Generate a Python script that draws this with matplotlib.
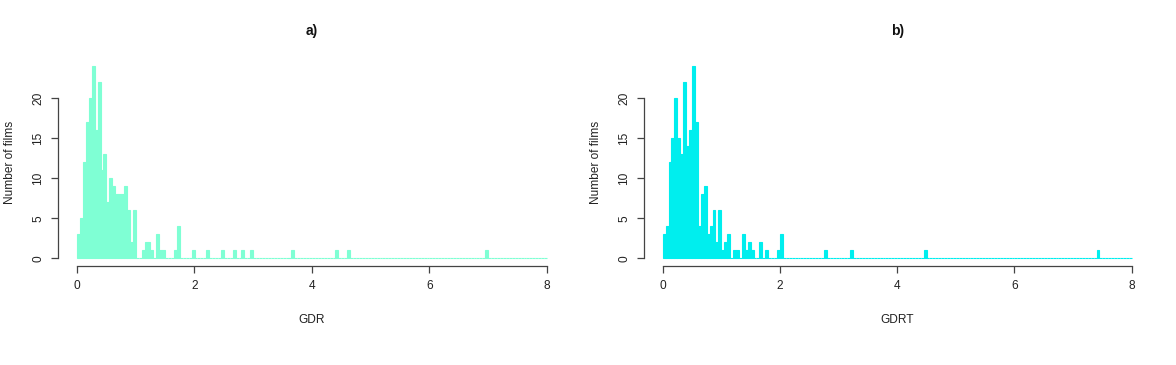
import numpy as np
import matplotlib
matplotlib.use("Agg")
import matplotlib.pyplot as plt

plt.rcParams['font.family'] = ['Liberation Sans', 'DejaVu Sans']

# ---- data (histogram counts, bin width 0.05 on [0, 8]) ----
bin_width = 0.05
x_min, x_max = 0.0, 8.0

# panel a) GDR: counts for bins starting at 0.00, 0.05, ... 2.95
gdr_head = [3, 5, 12, 17, 20, 24, 16, 22, 11, 13,
            7, 10, 9, 8, 8, 8, 9, 6, 2, 6,
            0, 0, 1, 2, 2, 1, 0, 3, 1, 1,
            0, 0, 0, 1, 4, 0, 0, 0, 0, 1,
            0, 0, 0, 0, 1, 0, 0, 0, 0, 1,
            0, 0, 0, 1, 0, 0, 1, 0, 0, 1]
gdr_tail_x = [3.65, 4.40, 4.60, 6.95]
gdr_tail_n = [1, 1, 1, 1]

# panel b) GDRT: counts for bins starting at 0.00 ... 2.00
gdrt_head = [3, 4, 12, 15, 20, 15, 13, 22, 14, 16,
             24, 17, 4, 8, 9, 3, 4, 6, 2, 6,
             1, 2, 3, 0, 1, 1, 0, 3, 1, 2,
             1, 0, 0, 2, 0, 1, 0, 0, 0, 1,
             3]
gdrt_tail_x = [2.75, 3.20, 4.45, 7.40]
gdrt_tail_n = [1, 1, 1, 1]

titles = ["a)", "b)"]
xlabels = ["GDR", "GDRT"]
ylabel = "Number of films"
colors = ["#7FFFD4", "#00EEEE"]
xticks = [0, 2, 4, 6, 8]
yticks = [0, 5, 10, 15, 20]


def full_counts(head, tail_x, tail_n):
    nb = int(round((x_max - x_min) / bin_width))
    c = np.zeros(nb)
    c[:len(head)] = head
    for xv, n in zip(tail_x, tail_n):
        c[int(round((xv - x_min) / bin_width))] += n
    return c


edges = x_min + bin_width * np.arange(int(round((x_max - x_min) / bin_width)) + 1)
series = [full_counts(gdr_head, gdr_tail_x, gdr_tail_n),
          full_counts(gdrt_head, gdrt_tail_x, gdrt_tail_n)]

W, H = 1176, 365
fig = plt.figure(figsize=(W / 100, H / 100), dpi=100)
fig.patch.set_facecolor("white")

# axes pixel boxes (left, right) ; vertical (top, bottom)
boxes = [(58.2, 565.8), (643.9, 1150.5)]
top_px, bot_px = 58.6, 266.0
axis_col = "#444444"
fs = 8.6

for i, (l, r) in enumerate(boxes):
    ax = fig.add_axes([l / W, 1 - bot_px / H, (r - l) / W, (bot_px - top_px) / H])
    c = colors[i]
    ax.bar(edges[:-1], series[i], width=bin_width, align="edge",
           color=c, edgecolor=c, linewidth=0.8)
    ax.set_xlim(-0.32, 8.32)
    ax.set_ylim(-0.96, 24.96)
    for s in ["top", "right"]:
        ax.spines[s].set_visible(False)
    ax.spines["left"].set_bounds(0, 20)
    ax.spines["bottom"].set_bounds(0, 8)
    for s in ["left", "bottom"]:
        ax.spines[s].set_color(axis_col)
        ax.spines[s].set_linewidth(0.9)
    ax.set_xticks(xticks)
    ax.set_yticks(yticks)
    ax.tick_params(axis="both", direction="out", length=5, width=0.9,
                   color=axis_col, labelsize=fs, labelcolor="#222222")
    ax.tick_params(axis="x", pad=5)
    ax.tick_params(axis="y", pad=5)
    for lab in ax.get_yticklabels():
        lab.set_rotation(90)
        lab.set_va("center")
        lab.set_ha("right")
    ax.set_facecolor("white")

    cx = (l + r) / 2
    fig.text(cx / W, 1 - 31 / H, titles[i], ha="center", va="center",
             fontsize=10, fontweight="bold", color="#111111")
    fig.text(cx / W, 1 - 320 / H, xlabels[i], ha="center", va="center",
             fontsize=fs, color="#222222")
    fig.text((l - 48) / W, 1 - 162 / H, ylabel, ha="center", va="center",
             rotation=90, fontsize=fs, color="#222222")

fig.savefig("out.png", dpi=100, facecolor="white")
